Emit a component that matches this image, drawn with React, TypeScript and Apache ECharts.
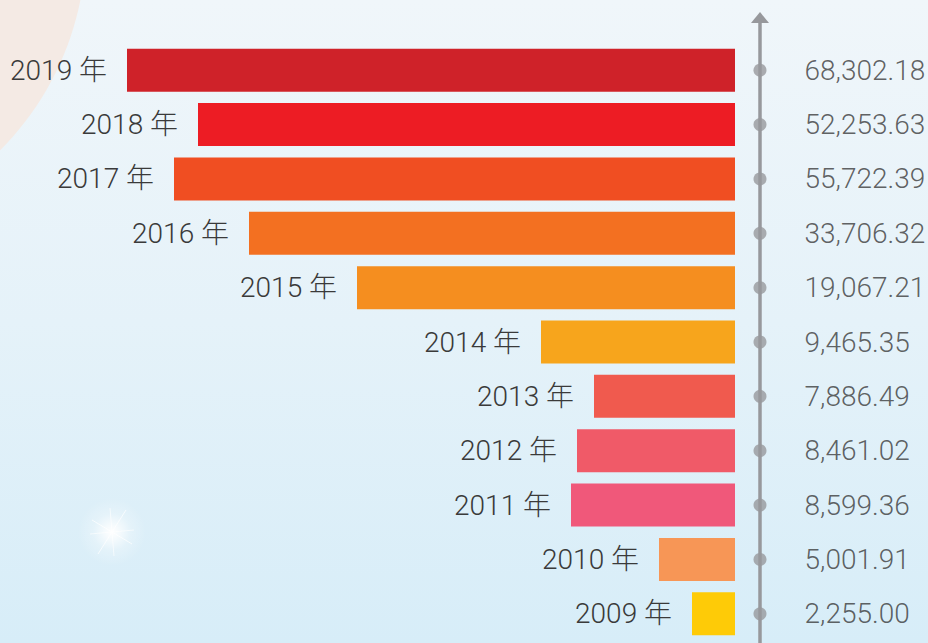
import React, { useEffect, useRef } from "react";
import * as echarts from "echarts";

// Years, top to bottom
const years = ["2019", "2018", "2017", "2016", "2015", "2014", "2013", "2012", "2011", "2010", "2009"];
// Value labels shown at the right
const values = [68302.18, 52253.63, 55722.39, 33706.32, 19067.21, 9465.35, 7886.49, 8461.02, 8599.36, 5001.91, 2255.0];
// Bar lengths as drawn in the reference infographic (not to scale with the values)
const drawnLength = [608, 537, 561, 486, 378, 194, 141, 158, 164, 76, 43];
// Bar colours
const barColors = [
  "#cf2229", "#ed1c24", "#f04e22", "#f37021", "#f58e1f", "#f7a51c",
  "#f05a4e", "#f05a68", "#f0587a", "#f79656", "#fecb07",
];

const FONT = "Roboto, 'Noto Sans CJK SC', sans-serif";

const fmt = (v: number) =>
  v.toLocaleString("en-US", { minimumFractionDigits: 2, maximumFractionDigits: 2 });

export default function App() {
  const ref = useRef<HTMLDivElement>(null);
  useEffect(() => {
    if (!ref.current) return;
    const chart = echarts.init(ref.current, undefined, { renderer: "svg" });
    const gridTop = 43;
    const gridH = 598;
    const ray = (x1: number, y1: number, x2: number, y2: number, a: number) => ({
      type: "line",
      shape: { x1, y1, x2, y2 },
      style: { stroke: `rgba(255,255,255,${a})`, lineWidth: 1 },
      z: -8,
      silent: true,
    });
    chart.setOption({
      animation: false,
      backgroundColor: {
        type: "linear",
        x: 0, y: 0, x2: 0, y2: 1,
        colorStops: [
          { offset: 0, color: "#f0f6fa" },
          { offset: 0.5, color: "#e5f2f9" },
          { offset: 1, color: "#d7edf8" },
        ],
      },
      graphic: {
        elements: [
          {
            type: "circle",
            shape: { cx: -207, cy: -57, r: 293 },
            style: { fill: "#f4eae4" },
            z: -10,
            silent: true,
          },
          {
            type: "circle",
            shape: { cx: 112, cy: 532, r: 34 },
            style: {
              fill: {
                type: "radial",
                x: 0.5, y: 0.5, r: 0.5,
                colorStops: [
                  { offset: 0, color: "rgba(255,255,255,1)" },
                  { offset: 0.2, color: "rgba(255,255,255,0.75)" },
                  { offset: 0.55, color: "rgba(255,255,255,0.25)" },
                  { offset: 1, color: "rgba(255,255,255,0)" },
                ],
              },
            },
            z: -9,
            silent: true,
          },
          ray(92, 520, 132, 544, 0.7),
          ray(126, 510, 98, 554, 0.7),
          ray(110, 508, 114, 556, 0.6),
          ray(90, 534, 134, 530, 0.6),
          {
            type: "line",
            shape: { x1: 760, y1: 20, x2: 760, y2: 643 },
            style: { stroke: "#97989c", lineWidth: 3.5 },
            z: 1, silent: true,
          },
          {
            type: "polygon",
            shape: { points: [[751, 23], [769, 23], [760, 12]] },
            style: { fill: "#97989c" },
            z: 1, silent: true,
          },
        ],
      },
      grid: [
        { left: 35, width: 700, top: gridTop, height: gridH },
        { left: 755, width: 10, top: gridTop, height: gridH },
      ],
      xAxis: [
        { gridIndex: 0, type: "value", min: 0, max: 700, inverse: true, show: false },
        { gridIndex: 1, type: "value", min: 0, max: 1, show: false },
      ],
      yAxis: [
        { gridIndex: 0, type: "category", data: years, inverse: true, show: false },
        { gridIndex: 1, type: "category", data: years, inverse: true, show: false },
      ],
      series: [
        {
          type: "bar",
          xAxisIndex: 0,
          yAxisIndex: 0,
          barWidth: 43,
          data: drawnLength.map((v, i) => ({ value: v, itemStyle: { color: barColors[i] } })),
          label: {
            show: true,
            position: "left",
            distance: 20,
            formatter: (p: any) => `${p.name} 年`,
            color: "#3a3a3a",
            fontSize: 28,
            fontWeight: 300,
            fontFamily: FONT,
          },
          silent: true,
        },
        {
          type: "scatter",
          xAxisIndex: 1,
          yAxisIndex: 1,
          symbol: "circle",
          symbolSize: 13,
          itemStyle: { color: "#97989c" },
          data: values.map((v, i) => [0.5, years[i], v]),
          label: {
            show: true,
            position: "right",
            distance: 38,
            formatter: (p: any) => fmt(p.value[2]),
            color: "#3a3a3a",
            fontSize: 28,
            fontWeight: 300,
            fontFamily: FONT,
          },
          silent: true,
          z: 3,
        },
      ],
    });
    return () => chart.dispose();
  }, []);
  return (
    <div
      ref={ref}
      style={{ position: "fixed", left: 0, top: 0, width: 928, height: 643 }}
    />
  );
}
